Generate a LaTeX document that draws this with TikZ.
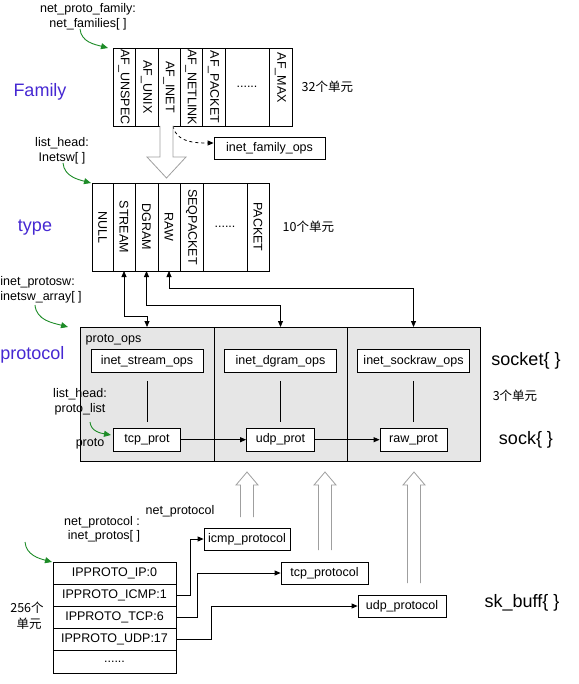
\documentclass[tikz,border=0pt]{standalone}
\usepackage{fontspec}
\setmainfont{Liberation Sans}
\newfontfamily\cjk{Noto Sans CJK SC}
\usetikzlibrary{positioning,arrows.meta}

\definecolor{labelblue}{RGB}{70,40,210}
\definecolor{arrowgreen}{RGB}{30,140,40}
\definecolor{boxgray}{RGB}{230,230,230}

\tikzset{
  cell/.style={draw,inner sep=0pt,outer sep=0pt,anchor=north west},
  fcell/.style={cell,minimum height=78pt},
  tcell/.style={cell,minimum height=88pt},
  vtext/.style={rotate=-90},
  opsbox/.style={draw,fill=white,minimum width=112pt,minimum height=23pt,inner sep=0pt},
  protbox/.style={draw,fill=white,minimum width=67pt,minimum height=23pt,inner sep=0pt},
  rowbox/.style={draw,minimum width=123pt,minimum height=22.2pt,inner sep=0pt,outer sep=0pt},
  netbox/.style={draw,minimum width=87pt,minimum height=22pt,inner sep=0pt},
  bigtext/.style={font=\fontsize{18}{21}\selectfont},
  hollow/.style={draw=gray!75,fill=white},
  gptr/.style={arrowgreen,line width=0.9pt,-{Triangle[length=7pt,width=6pt]}}
}

% hollow arrow pointing up: x, bottom, tip
\newcommand{\hollowup}[3]{\draw[hollow] (#1-6.5,#2) -- (#1-6.5,#3-13) -- (#1-11,#3-13) -- (#1,#3) -- (#1+11,#3-13) -- (#1+6.5,#3-13) -- (#1+6.5,#2);}

\begin{document}
\begin{tikzpicture}[x=1pt,y=1pt,line width=0.8pt,font=\fontsize{12.5}{14}\selectfont,
  >={Triangle[length=6pt,width=5pt]}]
  \useasboundingbox (0,0) rectangle (578,-684);

  % Family
  \node at (88,-9) {net\_proto\_family:};
  \node at (88,-24) {net\_families[ ]};
  \draw[gptr] (80,-29) to[out=-85,in=165] (108,-48);
  \node[bigtext,labelblue] at (40,-92) {Family};
  \node[fcell,minimum width=22pt] (unspec) at (113,-48) {};
  \node[fcell,minimum width=23pt,right=0pt of unspec] (unix) {};
  \node[fcell,minimum width=22pt,right=0pt of unix] (inet) {};
  \node[fcell,minimum width=22pt,right=0pt of inet] (netlink) {};
  \node[fcell,minimum width=23pt,right=0pt of netlink] (packet) {};
  \node[fcell,minimum width=44pt,right=0pt of packet] (fdots) {......};
  \node[fcell,minimum width=23pt,right=0pt of fdots] (afmax) {};
  \node[vtext] at (unspec) {AF\_UNSPEC};
  \node[vtext] at (unix) {AF\_UNIX};
  \node[vtext] at (inet) {AF\_INET};
  \node[vtext] at (netlink) {AF\_NETLINK};
  \node[vtext] at (packet) {AF\_PACKET};
  \node[vtext,anchor=west] at ([yshift=-1pt]afmax.north) {AF\_MAX};
  \node[right=6pt of afmax] {\cjk 32个单元};
  \node[draw,minimum width=111pt,minimum height=22pt,inner sep=0pt] (familyops) at (269.5,-148) {inet\_family\_ops};
  \draw[dashed,->] ([xshift=4pt]inet.south) to[out=-80,in=180] ([yshift=5pt]familyops.west);
  \draw[hollow] ([xshift=-9pt]inet.south) -- ++(0,-31) -- ++(-13,0) -- ++(19.5,-21)
    -- ++(19.5,21) -- ++(-13,0) -- ++(0,31);

  % type
  \node at (62,-143) {list\_head:};
  \node at (62,-158) {Inetsw[ ]};
  \draw[gptr] (63,-163) to[out=-85,in=165] (91,-183);
  \node[bigtext,labelblue] at (35,-228) {type};
  \node[tcell,minimum width=21pt] (null) at (92,-183) {};
  \node[tcell,minimum width=22pt,right=0pt of null] (stream) {};
  \node[tcell,minimum width=23pt,right=0pt of stream] (dgram) {};
  \node[tcell,minimum width=22pt,right=0pt of dgram] (raw) {};
  \node[tcell,minimum width=23pt,right=0pt of raw] (seqpacket) {};
  \node[tcell,minimum width=44pt,right=0pt of seqpacket] (tdots) {......};
  \node[tcell,minimum width=22pt,right=0pt of tdots] (pkt) {};
  \node[vtext] at (null) {NULL};
  \node[vtext] at (stream) {STREAM};
  \node[vtext] at (dgram) {DGRAM};
  \node[vtext] at (raw) {RAW};
  \node[vtext] at (seqpacket) {SEQPACKET};
  \node[vtext] at (pkt) {PACKET};
  \node[right=10pt of pkt] {\cjk 10个单元};

  % protocol
  \node[anchor=west,inner xsep=0pt] at (0,-282) {inet\_protosw:};
  \node[anchor=west,inner xsep=0pt] at (0,-297) {inetsw\_array[ ]};
  \draw[gptr] (35,-305) to[out=-85,in=165] (68,-327);
  \node[bigtext,labelblue,anchor=west,inner xsep=0pt] at (0,-355) {protocol};
  \node[cell,fill=boxgray,minimum width=134pt,minimum height=134pt] (tcpcell) at (80,-327) {};
  \node[cell,fill=boxgray,minimum width=133pt,minimum height=134pt,right=0pt of tcpcell] (udpcell) {};
  \node[cell,fill=boxgray,minimum width=133pt,minimum height=134pt,right=0pt of udpcell] (rawcell) {};
  \node[anchor=west] at (82,-340) {proto\_ops};
  \node[opsbox,below=22pt of tcpcell.north] (streamops) {inet\_stream\_ops};
  \node[opsbox,below=22pt of udpcell.north] (dgramops) {inet\_dgram\_ops};
  \node[opsbox,below=22pt of rawcell.north] (sockrawops) {inet\_sockraw\_ops};
  \node[protbox,below=55pt of streamops] (tcpprot) {tcp\_prot};
  \node[protbox,minimum width=68pt,below=55pt of dgramops] (udpprot) {udp\_prot};
  \node[protbox,below=55pt of sockrawops] (rawprot) {raw\_prot};
  \draw[shorten <=8pt,shorten >=6pt] (streamops) -- (tcpprot);
  \draw[shorten <=8pt,shorten >=6pt] (dgramops) -- (udpprot);
  \draw[shorten <=8pt,shorten >=6pt] (sockrawops) -- (rawprot);
  \draw[->] (tcpprot) -- (udpprot);
  \draw[->] (udpprot) -- (rawprot);
  \node at (80,-394) {list\_head:};
  \node at (80,-409) {proto\_list};
  \node at (90,-444) {proto};
  \draw[gptr] (90,-422) to[out=-85,in=170] (111,-435);
  \node[bigtext] at (526,-361) {socket\{ \}};
  \node at (515,-396) {\cjk 3个单元};
  \node[bigtext] at (526,-440) {sock\{ \}};
  \draw[<->] (stream.south) -- ++(0,-45) -| (tcpcell.north);
  \draw[<->] (dgram.south) -- ++(0,-34) -| (udpcell.north);
  \draw[<->] (raw.south) -- ++(0,-17) -| (rawcell.north);

  % sk_buff
  \hollowup{247}{-517}{-472}
  \hollowup{325}{-550}{-472}
  \hollowup{414}{-583}{-472}
  \node at (180,-511) {net\_protocol};
  \node at (102,-522) {net\_protocol :};
  \node at (104,-536) {inet\_protos[ ]};
  \draw[gptr] (25,-542) to[out=-85,in=165] (52,-562);
  \node[rowbox] (iprow) at (114.5,-573) {IPPROTO\_IP:0};
  \node[rowbox,below=0pt of iprow] (icmprow) {IPPROTO\_ICMP:1};
  \node[rowbox,below=0pt of icmprow] (tcprow) {IPPROTO\_TCP:6};
  \node[rowbox,below=0pt of tcprow] (udprow) {IPPROTO\_UDP:17};
  \node[rowbox,below=0pt of udprow] (dotsrow) {......};
  \node at (27,-608) {\cjk 256个};
  \node at (29,-624) {\cjk 单元};
  \node[netbox,minimum width=86pt] (icmpproto) at (247,-539) {icmp\_protocol};
  \node[netbox] (tcpproto) at (324.5,-573) {tcp\_protocol};
  \node[netbox,minimum width=88pt] (udpproto) at (402,-606) {udp\_protocol};
  \draw[->] (icmprow.east) -- ++(14,0) |- (icmpproto.west);
  \draw[->] (tcprow.east) -- ++(21,0) |- (tcpproto.west);
  \draw[->] (udprow.east) -- ++(35,0) |- (udpproto.west);
  \node[bigtext] at (522,-603) {sk\_buff\{ \}};
\end{tikzpicture}
\end{document}
